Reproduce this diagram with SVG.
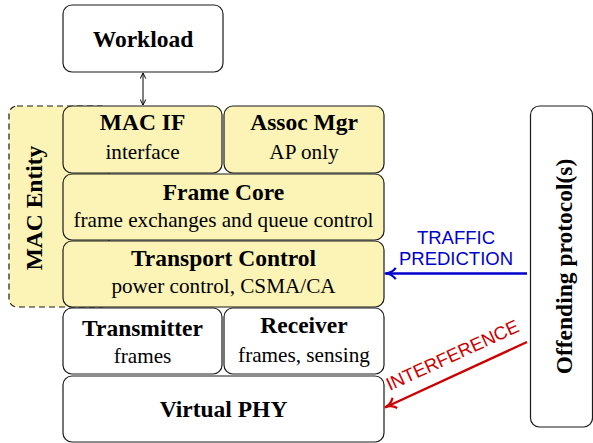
<svg xmlns="http://www.w3.org/2000/svg" width="593" height="443" viewBox="0 0 593 443">
  <defs>
    <style>
      .box { stroke: #1a1a1a; stroke-width: 1.2; }
      .white { fill: #ffffff; }
      .yellow { fill: #fbf4b6; }
      .title { font-family: "Liberation Serif", "Times New Roman", serif; font-weight: bold; font-size: 23.5px; fill: #000; text-anchor: middle; }
      .sub { font-family: "Liberation Serif", "Times New Roman", serif; font-size: 21.2px; fill: #000; text-anchor: middle; }
      .lbl { font-family: "Liberation Sans", Arial, sans-serif; font-size: 18.5px; text-anchor: middle; }
    </style>
    <marker id="tip" viewBox="0 0 10 10" refX="9" refY="5" markerWidth="7" markerHeight="7" markerUnits="userSpaceOnUse" orient="auto-start-reverse">
      <path d="M1,1 L9,5 L1,9" fill="none" stroke="#000" stroke-width="1.4"/>
    </marker>
    <marker id="tipBlue" viewBox="0 0 10 10" refX="8" refY="5" markerWidth="14" markerHeight="14" markerUnits="userSpaceOnUse" orient="auto">
      <path d="M1,1 Q4,5 9,5 Q4,5 1,9" fill="none" stroke="#0000cc" stroke-width="1.6"/>
    </marker>
    <marker id="tipRed" viewBox="0 0 10 10" refX="8" refY="5" markerWidth="14" markerHeight="14" markerUnits="userSpaceOnUse" orient="auto">
      <path d="M1,1 Q4,5 9,5 Q4,5 1,9" fill="none" stroke="#cc0000" stroke-width="1.6"/>
    </marker>
  </defs>

  <!-- MAC entity container (dashed, behind the MAC layers) -->
  <g id="mac-entity">
    <rect x="9" y="106" width="100" height="201" rx="8" class="yellow" stroke="#1a1a1a" stroke-width="1.2" stroke-dasharray="6,4"/>
    <text class="title" transform="translate(42,208) rotate(-90)">MAC Entity</text>
  </g>

  <g id="workload">
    <rect x="63" y="5" width="160" height="67" rx="9" class="box white"/>
    <text class="title" x="143" y="47">Workload</text>
  </g>

  <g id="mac-if">
    <rect x="63" y="106" width="159" height="67" rx="9" class="box yellow"/>
    <text class="title" x="142.5" y="130">MAC IF</text>
    <text class="sub" x="142.5" y="159">interface</text>
  </g>

  <g id="assoc-mgr">
    <rect x="224" y="106" width="160" height="67" rx="9" class="box yellow"/>
    <text class="title" x="304" y="130">Assoc Mgr</text>
    <text class="sub" x="304" y="159">AP only</text>
  </g>

  <g id="frame-core">
    <rect x="63" y="174" width="321" height="66" rx="9" class="box yellow"/>
    <text class="title" x="223.5" y="200">Frame Core</text>
    <text class="sub" x="223.5" y="226.5">frame exchanges and queue control</text>
  </g>

  <g id="transport-control">
    <rect x="63" y="241" width="321" height="66" rx="9" class="box yellow"/>
    <text class="title" x="223.5" y="266">Transport Control</text>
    <text class="sub" x="223.5" y="293">power control, CSMA/CA</text>
  </g>

  <g id="transmitter">
    <rect x="63" y="308" width="159" height="66" rx="9" class="box white"/>
    <text class="title" x="142.5" y="336">Transmitter</text>
    <text class="sub" x="142.5" y="363">frames</text>
  </g>

  <g id="receiver">
    <rect x="224" y="308" width="160" height="66" rx="9" class="box white"/>
    <text class="title" x="304" y="333">Receiver</text>
    <text class="sub" x="304" y="362">frames, sensing</text>
  </g>

  <g id="virtual-phy">
    <rect x="63" y="376" width="321" height="66" rx="9" class="box white"/>
    <text class="title" x="223.5" y="417">Virtual PHY</text>
  </g>

  <g id="offending">
    <rect x="530.5" y="106" width="62" height="321" rx="9" class="box white"/>
    <text class="title" transform="translate(571.5,266.5) rotate(-90)">Offending protocol(s)</text>
  </g>

  <!-- connectors -->
  <g id="connectors">
    <line x1="143" y1="73" x2="143" y2="105" stroke="#000" stroke-width="1" marker-start="url(#tip)" marker-end="url(#tip)"/>
    <line x1="527" y1="273.5" x2="386" y2="273.5" stroke="#0000cc" stroke-width="2.4" marker-end="url(#tipBlue)"/>
    <text class="lbl" x="456" y="244" fill="#0000cc">TRAFFIC</text>
    <text class="lbl" x="456" y="265" fill="#0000cc">PREDICTION</text>
    <line x1="527" y1="342" x2="386" y2="407" stroke="#cc0000" stroke-width="2.4" marker-end="url(#tipRed)"/>
    <text class="lbl" fill="#cc0000" transform="translate(455,361) rotate(-24.7)">INTERFERENCE</text>
  </g>
</svg>
